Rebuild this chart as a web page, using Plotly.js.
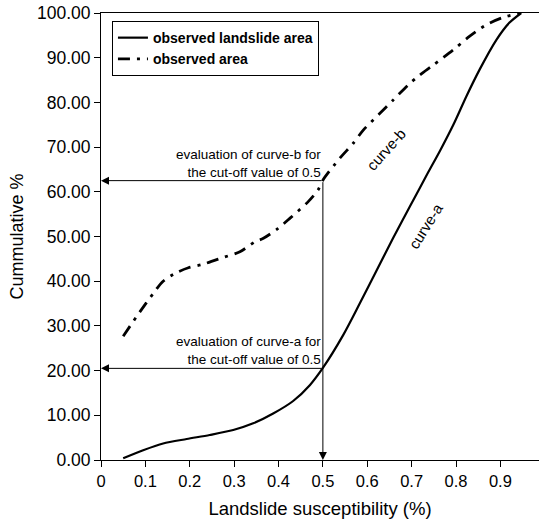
<!DOCTYPE html>
<html>
<head>
<meta charset="utf-8">
<script src="https://cdn.plot.ly/plotly-3.0.1.min.js"></script>
<style>html,body{margin:0;padding:0;background:#fff;}</style>
</head>
<body>
<div id="chart" style="width:539px;height:522px;"></div>
<script>
// Curve-a: observed landslide area
const xA = [0.05, 0.095, 0.14, 0.193, 0.245, 0.298, 0.343, 0.388, 0.433, 0.471, 0.5, 0.546, 0.583, 0.621, 0.658, 0.696, 0.737, 0.764, 0.794, 0.824, 0.854, 0.891, 0.92, 0.947];
const yA = [0.4, 2.2, 3.7, 4.7, 5.6, 6.7, 8.2, 10.4, 13.2, 16.8, 20.6, 28.0, 35.0, 42.4, 49.6, 56.7, 64.3, 69.2, 75.0, 81.5, 87.5, 94.0, 97.8, 100];
// Curve-b: observed area
const xB = [0.05, 0.088, 0.118, 0.14, 0.17, 0.197, 0.23, 0.275, 0.313, 0.347, 0.366, 0.399, 0.426, 0.467, 0.489, 0.5, 0.538, 0.568, 0.591, 0.628, 0.658, 0.692, 0.718, 0.748, 0.793, 0.831, 0.869, 0.906, 0.945];
const yB = [27.7, 33.2, 37.3, 40.0, 41.9, 43.0, 43.8, 45.3, 46.6, 48.8, 49.6, 51.8, 54.1, 57.8, 60.4, 62.6, 67.5, 70.8, 73.8, 77.5, 80.5, 83.9, 86.1, 88.3, 91.7, 94.8, 97.4, 99.0, 100];
const seriesNames = ["observed landslide area", "observed area"];
const cutoff = 0.5;
const evalB = 62.5;
const evalA = 20.5;
const xTickVals = [0, 0.1, 0.2, 0.3, 0.4, 0.5, 0.6, 0.7, 0.8, 0.9];
const xTickText = ["0", "0.1", "0.2", "0.3", "0.4", "0.5", "0.6", "0.7", "0.8", "0.9"];
const yTickVals = [0, 10, 20, 30, 40, 50, 60, 70, 80, 90, 100];
const yTickText = ["0.00", "10.00", "20.00", "30.00", "40.00", "50.00", "60.00", "70.00", "80.00", "90.00", "100.00"];

const FONT = "Arial, 'Liberation Sans', sans-serif";

const traces = [
  {x: xA, y: yA, name: seriesNames[0], mode: "lines", line: {color: "#000", width: 2.2, shape: "spline", smoothing: 0.8}},
  {x: xB, y: yB, name: seriesNames[1], mode: "lines", line: {color: "#000", width: 2.8, dash: "12px,7px,3px,7px", shape: "spline", smoothing: 0.8}}
];

const arrowCommon = {xref: "x", yref: "y", axref: "x", ayref: "y", text: "", showarrow: true,
  arrowhead: 2, arrowsize: 1.6, arrowwidth: 1, arrowcolor: "#000", standoff: 0, startstandoff: 0};

const layout = {
  width: 539, height: 522,
  margin: {l: 101, r: 0, t: 13, b: 62},
  paper_bgcolor: "#fff", plot_bgcolor: "#fff",
  font: {family: FONT, color: "#000"},
  showlegend: true,
  legend: {x: 0.025, y: 0.982, xanchor: "left", yanchor: "top", bgcolor: "#fff",
    bordercolor: "#000", borderwidth: 1, font: {family: FONT, size: 14, weight: "bold"},
    tracegroupgap: 0},
  xaxis: {range: [0, 0.987], tickvals: xTickVals, ticktext: xTickText, ticks: "outside", ticklen: 6,
    tickcolor: "#000", showline: true, linecolor: "#000", linewidth: 1, mirror: true, showgrid: false, zeroline: false,
    tickfont: {family: FONT, size: 16.5}, fixedrange: true,
    title: {text: "Landslide susceptibility (%)", font: {family: FONT, size: 18.5}, standoff: 13}},
  yaxis: {range: [0, 100], tickvals: yTickVals, ticktext: yTickText, ticks: "outside", ticklen: 6,
    tickcolor: "#000", showline: true, linecolor: "#000", linewidth: 1, showgrid: false, zeroline: false,
    tickfont: {family: FONT, size: 17.5}, fixedrange: true,
    title: {text: "Cummulative %", font: {family: FONT, size: 18}, standoff: 8}},
  annotations: [
    Object.assign({}, arrowCommon, {x: 0, y: evalB, ax: cutoff, ay: evalB}),
    Object.assign({}, arrowCommon, {x: 0, y: evalA, ax: cutoff, ay: evalA}),
    Object.assign({}, arrowCommon, {x: cutoff, y: 0, ax: cutoff, ay: evalB}),
    {xref: "x", yref: "y", x: cutoff, y: evalB, xanchor: "right", yanchor: "bottom", showarrow: false, align: "right",
      text: "evaluation of curve-b for<br>the cut-off value of 0.5", font: {family: FONT, size: 13.5}, yshift: -1},
    {xref: "x", yref: "y", x: cutoff, y: evalA, xanchor: "right", yanchor: "bottom", showarrow: false, align: "right",
      text: "evaluation of curve-a for<br>the cut-off value of 0.5", font: {family: FONT, size: 13.5}, yshift: -1},
    {xref: "x", yref: "y", x: 0.642, y: 69.5, showarrow: false, text: "curve-b", textangle: -48, font: {family: FONT, size: 15}},
    {xref: "x", yref: "y", x: 0.732, y: 52.5, showarrow: false, text: "curve-a", textangle: -58, font: {family: FONT, size: 15}}
  ]
};

Plotly.newPlot("chart", traces, layout, {displayModeBar: false, staticPlot: true});
</script>
</body>
</html>
